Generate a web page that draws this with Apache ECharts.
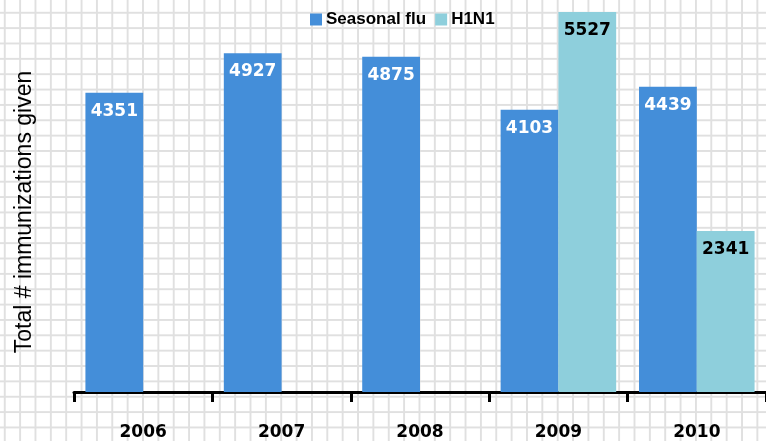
<!DOCTYPE html>
<html>
<head>
<meta charset="utf-8">
<script src="https://cdn.jsdelivr.net/npm/echarts@6/dist/echarts.min.js"></script>
<style>
html,body{margin:0;padding:0;background:#fff;}
#chart{width:766px;height:441px;
background-color:#fff;
background-image:linear-gradient(to right,#e0e0e0 2px,transparent 2px),linear-gradient(to bottom,#e0e0e0 2px,transparent 2px);
background-size:15.37px 15.37px;
background-position:3.8px 11.8px;}
</style>
</head>
<body>
<div id="chart"></div>
<script>
var categories = ['2006','2007','2008','2009','2010'];
var seasonalFlu = [4351, 4927, 4875, 4103, 4439];
var h1n1 = [null, null, null, 5527, 2341];
var seriesNames = ['Seasonal flu','H1N1'];
var yTitle = 'Total # immunizations given';

var chart = echarts.init(document.getElementById('chart'));
var labelFont = 'DejaVu Sans';
chart.setOption({
  backgroundColor: 'transparent',
  animation: false,
  legend: {
    data: seriesNames,
    left: 305, top: 6,
    itemWidth: 12, itemHeight: 12, itemGap: 9,
    icon: 'rect',
    textStyle: {fontFamily: 'Liberation Sans', fontWeight: 'bold', fontSize: 17, color: '#000', padding: [0,0,0,-1]}
  },
  grid: {left: 74, right: -4.25, top: 0, bottom: 49, containLabel: false},
  xAxis: {
    type: 'category', data: categories,
    axisLine: {lineStyle: {color: '#000', width: 3}},
    axisTick: {show: true, length: 10, lineStyle: {color: '#000', width: 3}},
    axisLabel: {margin: 32, fontFamily: labelFont, fontWeight: 'bold', fontSize: 17, color: '#000'},
    splitLine: {show: false}
  },
  yAxis: {
    type: 'value', min: 0, max: 5700,
    show: false, splitLine: {show: false}
  },
  graphic: [{
    type: 'text', x: 25, y: 212, rotation: Math.PI/2,
    style: {text: yTitle, fontFamily: 'Liberation Sans', fontSize: 23, fontWeight: 'normal', fill: '#000', align: 'center', verticalAlign: 'middle'}
  }],
  series: [
    {name: seriesNames[0], type: 'bar', data: seasonalFlu, barGap: '0%', barCategoryGap: '16.5%',
     itemStyle: {color: '#448ed9'},
     label: {show: true, position: 'insideTop', distance: 10, color: '#fff', fontFamily: labelFont, fontWeight: 'bold', fontSize: 17}},
    {name: seriesNames[1], type: 'bar', data: h1n1, barGap: '0%', barCategoryGap: '16.5%',
     itemStyle: {color: '#8ecfdc'},
     label: {show: true, position: 'insideTop', distance: 10, color: '#000', fontFamily: labelFont, fontWeight: 'bold', fontSize: 17}}
  ]
});
</script>
</body>
</html>
